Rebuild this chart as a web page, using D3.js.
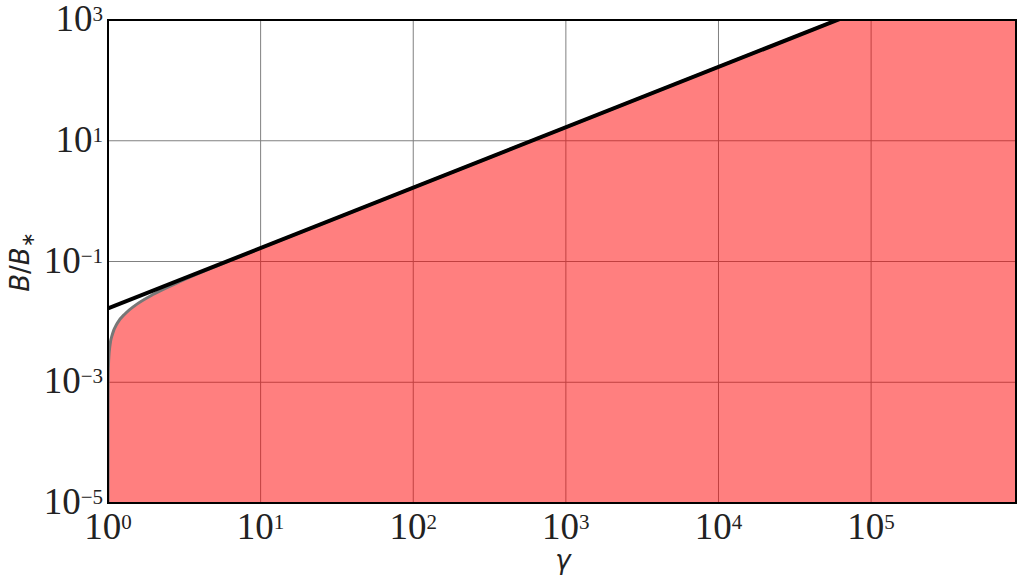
<!DOCTYPE html>
<html>
<head>
<meta charset="utf-8">
<script src="https://cdn.jsdelivr.net/npm/d3@7"></script>
<style>
  body { margin: 0; background: #fff; }
  svg { display: block; }
</style>
</head>
<body>
<div id="chart"></div>
<script>
"use strict";

// values
let gammaCurve = [1, 1.0003, 1.001, 1.003, 1.01, 1.03, 1.07, 1.15, 1.3, 1.5, 2, 3, 5, 10, 30, 100, 1000, 1e4, 1e5, 9e5];
let bCurve = [1e-5, 4.1e-4, 7.5e-4, 1.29e-3, 2.36e-3, 4.1e-3, 6.3e-3, 9.5e-3, 0.0138, 0.0186, 0.0289, 0.0471, 0.0816, 0.166, 0.5, 1.667, 16.7, 167, 1670, 15000];

// the straight black limit line
let gammaLine = [1, 9e5];
let bLine = [0.0167, 15000];

let xTicks = [1, 10, 100, 1e3, 1e4, 1e5];
let xTickExp = ["0", "1", "2", "3", "4", "5"];
let yTicks = [1e-5, 1e-3, 1e-1, 10, 1e3];
let yTickExp = ["\u22125", "\u22123", "\u22121", "1", "3"];

var width = 1024,
    height = 585,
    plotLeft = 108, plotRight = 1016, plotTop = 20, plotBottom = 503;

var xScale = d3.scaleLog().domain([1, 8.9e5]).range([plotLeft, plotRight]);
var yScale = d3.scaleLog().domain([1e-5, 1e3]).range([plotBottom, plotTop]);

var svg = d3.select('#chart').append('svg')
  .attr('width', width)
  .attr('height', height);

svg.append('clipPath').attr('id', 'plotclip')
  .append('rect')
    .attr('x', plotLeft).attr('y', plotTop)
    .attr('width', plotRight - plotLeft).attr('height', plotBottom - plotTop);

var plot = svg.append('g').attr('clip-path', 'url(#plotclip)');

// grid
plot.selectAll('line.gx').data(xTicks).enter().append('line')
  .attr('class', 'gx')
  .attr('x1', d => xScale(d)).attr('x2', d => xScale(d))
  .attr('y1', plotTop).attr('y2', plotBottom)
  .attr('stroke', '#808080').attr('stroke-width', 1);

plot.selectAll('line.gy').data(yTicks).enter().append('line')
  .attr('class', 'gy')
  .attr('y1', d => yScale(d)).attr('y2', d => yScale(d))
  .attr('x1', plotLeft).attr('x2', plotRight)
  .attr('stroke', '#808080').attr('stroke-width', 1);

var curveData = gammaCurve.map((g, i) => ({g: g, b: bCurve[i]}));

var area = d3.area()
  .x(d => xScale(d.g))
  .y0(plotBottom)
  .y1(d => yScale(d.b))
  .curve(d3.curveMonotoneX);

var curveLine = d3.line()
  .x(d => xScale(d.g))
  .y(d => yScale(d.b))
  .curve(d3.curveMonotoneX);

plot.append('path').datum(curveData)
  .attr('d', area)
  .attr('fill', 'red')
  .attr('fill-opacity', 0.5);

plot.append('path').datum(curveData)
  .attr('d', curveLine)
  .attr('fill', 'none')
  .attr('stroke', '#777')
  .attr('stroke-width', 3);

var lineData = gammaLine.map((g, i) => ({g: g, b: bLine[i]}));

plot.append('path').datum(lineData)
  .attr('d', d3.line().x(d => xScale(d.g)).y(d => yScale(d.b)))
  .attr('fill', 'none')
  .attr('stroke', '#000')
  .attr('stroke-width', 4);

// frame
svg.append('rect')
  .attr('x', plotLeft).attr('y', plotTop)
  .attr('width', plotRight - plotLeft).attr('height', plotBottom - plotTop)
  .attr('fill', 'none')
  .attr('stroke', '#000')
  .attr('stroke-width', 2);

// tick labels
var serif = '"Liberation Serif", "Times New Roman", serif';

var xLab = svg.selectAll('text.xt').data(xTicks).enter().append('text')
  .attr('class', 'xt')
  .attr('x', d => xScale(d))
  .attr('y', 539)
  .attr('text-anchor', 'middle')
  .style('font-family', serif)
  .style('fill', '#222');
xLab.append('tspan').style('font-size', '37px').text('10');
xLab.append('tspan').style('font-size', '21px').attr('dy', -10).text((d, i) => xTickExp[i]);

var yLab = svg.selectAll('text.yt').data(yTicks).enter().append('text')
  .attr('class', 'yt')
  .attr('x', 103)
  .attr('y', d => yScale(d) + 11)
  .attr('text-anchor', 'end')
  .style('font-family', serif)
  .style('fill', '#222');
yLab.append('tspan').style('font-size', '37px').text('10');
yLab.append('tspan').style('font-size', '21px').attr('dy', -10).text((d, i) => yTickExp[i]);

// axis titles
svg.append('text')
  .attr('x', 563).attr('y', 569)
  .attr('text-anchor', 'middle')
  .style('font-family', '"DejaVu Sans", sans-serif')
  .style('font-style', 'italic')
  .style('font-size', '26px')
  .style('fill', '#222')
  .text('\u03b3');

var yTitle = svg.append('text')
  .attr('transform', 'translate(29,262) rotate(-90)')
  .attr('text-anchor', 'middle')
  .style('font-family', '"DejaVu Sans", sans-serif')
  .style('font-size', '26px')
  .style('fill', '#222');
yTitle.append('tspan').style('font-style', 'italic').text('B');
yTitle.append('tspan').text('/');
yTitle.append('tspan').style('font-style', 'italic').text('B');
yTitle.append('tspan').style('font-size', '18px').attr('dy', 5).text('\u2217');
</script>
</body>
</html>
